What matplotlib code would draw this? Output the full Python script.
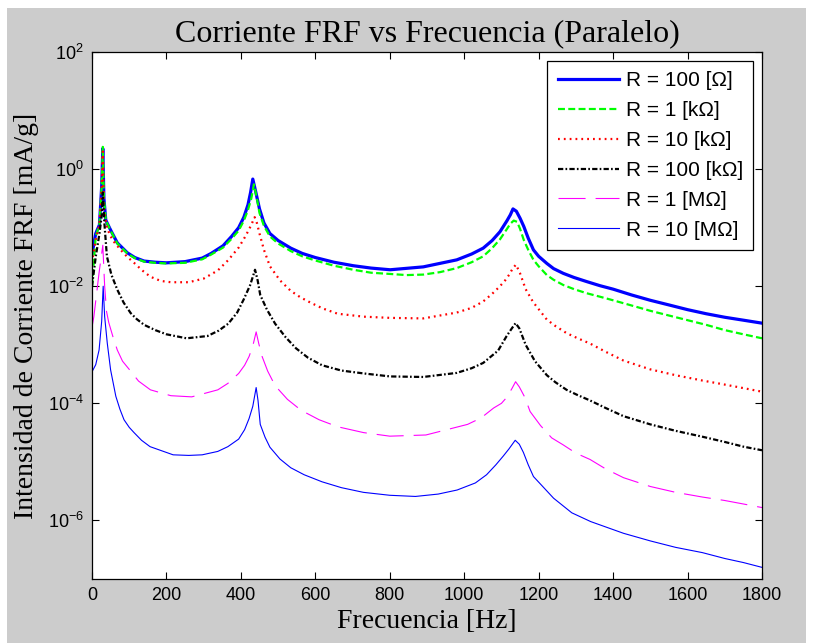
import matplotlib
matplotlib.use("Agg")
import matplotlib.pyplot as plt
from matplotlib.patches import Rectangle
from matplotlib.ticker import FixedLocator, LogFormatterSciNotation, NullLocator

# Current FRF magnitude [mA/g] for each load resistance (parallel connection)
freq_r100 = [0, 10, 20, 26, 29, 32, 37, 43, 50, 68, 95, 115, 140, 170, 200, 250, 296, 320, 352, 375,
             394, 408, 419, 426, 432, 441, 450, 462, 478, 500, 534, 565, 600, 650, 702, 750, 801, 890,
             980, 1020, 1051, 1075, 1096, 1115, 1124, 1131, 1140, 1150, 1160, 1172, 1186, 1200, 1222,
             1240, 1266, 1295, 1329, 1365, 1400, 1450, 1500, 1550, 1600, 1650, 1700, 1750, 1800]
amp_r100 = [3.55e-2, 7.94e-2, 1.12e-1, 5.0e-1, 2.24, 3.16e-1, 1.35e-1, 1.12e-1, 9.1e-2, 5.5e-2,
            3.72e-2, 3.09e-2, 2.69e-2, 2.57e-2, 2.51e-2, 2.63e-2, 3.02e-2, 3.63e-2, 4.9e-2, 7.08e-2,
            1.0e-1, 1.51e-1, 2.45e-1, 3.98e-1, 6.76e-1, 3.8e-1, 2.09e-1, 1.2e-1, 7.94e-2, 6.03e-2,
            4.47e-2, 3.63e-2, 3.09e-2, 2.57e-2, 2.24e-2, 2.04e-2, 1.91e-2, 2.14e-2, 2.82e-2, 3.55e-2,
            4.47e-2, 6.03e-2, 8.51e-2, 1.32e-1, 1.66e-1, 2.09e-1, 1.91e-1, 1.45e-1, 1.05e-1, 6.61e-2,
            4.17e-2, 3.24e-2, 2.45e-2, 2.0e-2, 1.66e-2, 1.41e-2, 1.20e-2, 1.02e-2, 8.91e-3, 7.08e-3,
            5.75e-3, 4.79e-3, 3.98e-3, 3.39e-3, 2.95e-3, 2.63e-3, 2.34e-3]

freq_r1k = [0, 10, 20, 26, 29, 32, 37, 43, 50, 68, 95, 115, 140, 170, 200, 250, 296, 320, 352, 375,
            394, 408, 419, 428, 435, 443, 450, 462, 478, 500, 534, 565, 600, 650, 702, 750, 801, 845,
            890, 935, 980, 1020, 1051, 1075, 1096, 1115, 1124, 1133, 1142, 1150, 1160, 1172, 1186, 1200,
            1222, 1240, 1266, 1295, 1329, 1365, 1400, 1450, 1500, 1550, 1600, 1650, 1700, 1750, 1800]
amp_r1k = [1.0e-2, 7.08e-2, 1.12e-1, 5.0e-1, 2.40, 3.16e-1, 1.35e-1, 1.10e-1, 8.91e-2, 5.37e-2,
           3.63e-2, 3.02e-2, 2.63e-2, 2.51e-2, 2.45e-2, 2.51e-2, 2.88e-2, 3.47e-2, 4.57e-2, 6.46e-2,
           8.91e-2, 1.32e-1, 2.0e-1, 3.16e-1, 5.50e-1, 3.16e-1, 1.78e-1, 1.07e-1, 7.08e-2, 5.37e-2,
           3.98e-2, 3.24e-2, 2.75e-2, 2.24e-2, 1.91e-2, 1.70e-2, 1.62e-2, 1.55e-2, 1.58e-2, 1.74e-2,
           2.04e-2, 2.57e-2, 3.24e-2, 4.47e-2, 6.31e-2, 9.55e-2, 1.17e-1, 1.32e-1, 1.26e-1, 9.55e-2,
           6.17e-2, 4.17e-2, 2.82e-2, 2.19e-2, 1.55e-2, 1.29e-2, 1.05e-2, 8.91e-3, 7.59e-3, 6.61e-3,
           5.75e-3, 4.68e-3, 3.80e-3, 3.16e-3, 2.63e-3, 2.19e-3, 1.78e-3, 1.51e-3, 1.29e-3]

freq_r10k = [0, 10, 20, 26, 29, 32, 40, 50, 60, 77, 95, 113, 135, 157, 185, 212, 260, 300, 338, 365,
             394, 410, 422, 430, 437, 443, 450, 462, 478, 505, 534, 560, 590, 620, 660, 730, 801, 890,
             980, 1020, 1051, 1075, 1096, 1110, 1121, 1130, 1139, 1150, 1165, 1185, 1222, 1245, 1275,
             1305, 1338, 1380, 1428, 1500, 1568, 1640, 1700, 1750, 1800]
amp_r10k = [2.51e-2, 6.31e-2, 1.12e-1, 5.0e-1, 2.0, 2.0e-1, 1.0e-1, 7.08e-2, 5.62e-2, 4.17e-2,
            3.16e-2, 2.51e-2, 1.86e-2, 1.45e-2, 1.23e-2, 1.17e-2, 1.17e-2, 1.35e-2, 1.86e-2, 2.75e-2,
            4.57e-2, 6.76e-2, 9.33e-2, 1.20e-1, 1.51e-1, 1.20e-1, 7.94e-2, 4.17e-2, 2.19e-2, 1.26e-2,
            8.32e-3, 6.46e-3, 5.13e-3, 4.17e-3, 3.39e-3, 3.02e-3, 2.88e-3, 2.82e-3, 3.55e-3, 4.27e-3,
            5.50e-3, 7.41e-3, 1.0e-2, 1.26e-2, 1.58e-2, 2.0e-2, 2.34e-2, 1.66e-2, 8.91e-3, 5.37e-3,
            2.69e-3, 2.09e-3, 1.58e-3, 1.29e-3, 1.05e-3, 7.59e-4, 5.37e-4, 3.80e-4, 3.02e-4, 2.45e-4,
            2.09e-4, 1.82e-4, 1.58e-4]

freq_r100k = [0, 10, 20, 26, 29, 33, 40, 52, 68, 85, 104, 120, 140, 170, 200, 254, 310, 340, 366, 390,
              408, 425, 438, 445, 452, 470, 492, 520, 548, 580, 618, 670, 730, 801, 890, 980, 1020,
              1051, 1091, 1114, 1128, 1138, 1148, 1165, 1190, 1222, 1245, 1275, 1305, 1338, 1380, 1428,
              1500, 1568, 1640, 1700, 1750, 1800]
amp_r100k = [1.0e-2, 3.16e-2, 7.94e-2, 1.58e-1, 3.98e-1, 1.26e-1, 3.24e-2, 1.58e-2, 8.71e-3, 5.25e-3,
             3.47e-3, 2.75e-3, 2.19e-3, 1.78e-3, 1.51e-3, 1.29e-3, 1.41e-3, 1.74e-3, 2.29e-3, 3.55e-3,
             6.03e-3, 1.05e-2, 1.91e-2, 1.26e-2, 7.08e-3, 3.98e-3, 2.29e-3, 1.35e-3, 8.71e-4, 6.03e-4,
             4.47e-4, 3.63e-4, 3.24e-4, 2.88e-4, 2.82e-4, 3.31e-4, 3.98e-4, 4.90e-4, 7.94e-4, 1.41e-3,
             1.91e-3, 2.34e-3, 1.91e-3, 1.0e-3, 5.25e-4, 3.02e-4, 2.29e-4, 1.70e-4, 1.38e-4, 1.12e-4,
             8.32e-5, 6.03e-5, 4.37e-5, 3.39e-5, 2.69e-5, 2.19e-5, 1.82e-5, 1.58e-5]

freq_r1M = [0, 5, 19, 29, 34, 39, 45, 57, 68, 82, 100, 125, 157, 212, 268, 338, 365, 394, 410, 422,
            432, 441, 448, 457, 472, 492, 525, 562, 610, 660, 730, 800, 897, 1009, 1045, 1079, 1100,
            1114, 1128, 1138, 1148, 1163, 1177, 1205, 1235, 1266, 1300, 1338, 1380, 1428, 1500, 1568,
            1640, 1700, 1750, 1800]
amp_r1M = [2.0e-3, 3.02e-3, 1.70e-2, 5.01e-2, 1.0e-2, 3.72e-3, 2.40e-3, 1.32e-3, 8.13e-4, 5.25e-4,
           3.80e-4, 2.40e-4, 1.70e-4, 1.35e-4, 1.29e-4, 1.70e-4, 2.19e-4, 3.24e-4, 4.47e-4, 6.31e-4,
           9.55e-4, 1.66e-3, 1.05e-3, 6.31e-4, 3.55e-4, 2.0e-4, 1.17e-4, 7.59e-5, 5.25e-5, 3.98e-5,
           3.16e-5, 2.75e-5, 2.88e-5, 4.37e-5, 5.62e-5, 8.32e-5, 1.0e-4, 1.26e-4, 1.78e-4, 2.34e-4,
           1.91e-4, 1.26e-4, 7.24e-5, 4.17e-5, 2.57e-5, 1.95e-5, 1.41e-5, 1.10e-5, 7.59e-6, 5.37e-6,
           3.80e-6, 3.02e-6, 2.51e-6, 2.19e-6, 1.91e-6, 1.66e-6]

freq_r10M = [0, 1, 10, 19, 26, 30, 34, 41, 50, 64, 75, 86, 100, 113, 133, 156, 218, 260, 296, 338, 365,
             394, 410, 422, 432, 441, 446, 452, 465, 478, 505, 534, 570, 618, 670, 729, 800, 869, 930,
             981, 1030, 1060, 1085, 1105, 1120, 1137, 1148, 1159, 1172, 1186, 1205, 1240, 1289, 1340,
             1428, 1500, 1568, 1640, 1700, 1750, 1800]
amp_r10M = [5.0e-7, 3.55e-4, 4.57e-4, 8.13e-4, 2.51e-3, 1.0e-2, 3.02e-3, 1.07e-3, 3.72e-4, 1.32e-4,
            7.94e-5, 5.25e-5, 3.89e-5, 3.16e-5, 2.34e-5, 1.82e-5, 1.32e-5, 1.29e-5, 1.32e-5, 1.51e-5,
            1.82e-5, 2.45e-5, 3.55e-5, 5.50e-5, 8.91e-5, 1.86e-4, 1.12e-4, 4.37e-5, 2.63e-5, 1.78e-5,
            1.12e-5, 7.94e-6, 6.03e-6, 4.57e-6, 3.63e-6, 3.02e-6, 2.69e-6, 2.57e-6, 2.82e-6, 3.31e-6,
            4.37e-6, 6.03e-6, 8.91e-6, 1.26e-5, 1.66e-5, 2.34e-5, 2.0e-5, 1.45e-5, 8.91e-6, 5.62e-6,
            4.17e-6, 2.40e-6, 1.35e-6, 9.55e-7, 6.03e-7, 4.47e-7, 3.47e-7, 2.82e-7, 2.24e-7, 1.91e-7,
            1.58e-7]

labels = ["R = 100 [Ω]", "R = 1 [kΩ]", "R = 10 [kΩ]", "R = 100 [kΩ]", "R = 1 [MΩ]", "R = 10 [MΩ]"]

x_ticks = [0, 200, 400, 600, 800, 1000, 1200, 1400, 1600, 1800]
y_ticks = [1e-6, 1e-4, 1e-2, 1e0, 1e2]

plt.rcParams["font.family"] = ["Liberation Sans", "DejaVu Sans"]
plt.rcParams["lines.scale_dashes"] = False

fig = plt.figure(figsize=(8.14, 6.43), dpi=100, facecolor="white")
fig.patches.append(Rectangle((7 / 814, 0), (806 - 7) / 814, (643 - 8) / 643,
                             transform=fig.transFigure, facecolor="#cccccc",
                             edgecolor="none", zorder=-10))

ax = fig.add_axes([92 / 814, 64 / 643, 670 / 814, 527 / 643])
ax.set_facecolor("white")

styles = [
    dict(color="#0000ff", lw=2.3, ls="-"),
    dict(color="#00ff00", lw=1.6, ls=(0, (5.0, 2.4))),
    dict(color="#ff0000", lw=1.6, ls=(0, (1.3, 2.9))),
    dict(color="#000000", lw=1.6, ls=(0, (3.8, 1.6, 1.2, 1.6))),
    dict(color="#ff00ff", lw=0.8, ls=(0, (19.5, 7.2))),
    dict(color="#0000ff", lw=0.8, ls="-"),
]
series = [(freq_r100, amp_r100), (freq_r1k, amp_r1k), (freq_r10k, amp_r10k),
          (freq_r100k, amp_r100k), (freq_r1M, amp_r1M), (freq_r10M, amp_r10M)]

for (f, a), st, lab in zip(series, styles, labels):
    ax.plot(f, a, label=lab, **st)

ax.set_yscale("log")
ax.set_xlim(0, 1800)
ax.set_ylim(1e-7, 1e2)
ax.xaxis.set_major_locator(FixedLocator(x_ticks))
ax.yaxis.set_major_locator(FixedLocator(y_ticks))
ax.yaxis.set_major_formatter(LogFormatterSciNotation())
ax.yaxis.set_minor_locator(NullLocator())
ax.tick_params(axis="both", which="major", direction="in", length=5, width=0.8,
               top=True, right=True, labelsize=13, colors="black", pad=6)
for sp in ax.spines.values():
    sp.set_color("black")
    sp.set_linewidth(0.9)

serif = ["Liberation Serif", "DejaVu Serif"]
ax.set_title("Corriente FRF vs Frecuencia (Paralelo)", family=serif, fontsize=23, pad=8)
ax.set_xlabel("Frecuencia [Hz]", family=serif, fontsize=20, labelpad=3)
ax.set_ylabel("Intensidad de Corriente FRF [mA/g]", family=serif, fontsize=20, labelpad=6)

leg = ax.legend(loc="upper right", bbox_to_anchor=(0.987, 0.983), borderaxespad=0,
                fontsize=15, handlelength=2.95, handletextpad=0.3, labelspacing=0.52,
                fancybox=False, framealpha=1, edgecolor="black", borderpad=0.5)
leg.get_frame().set_linewidth(0.9)

fig.savefig("out.png", dpi=100, facecolor=fig.get_facecolor())
